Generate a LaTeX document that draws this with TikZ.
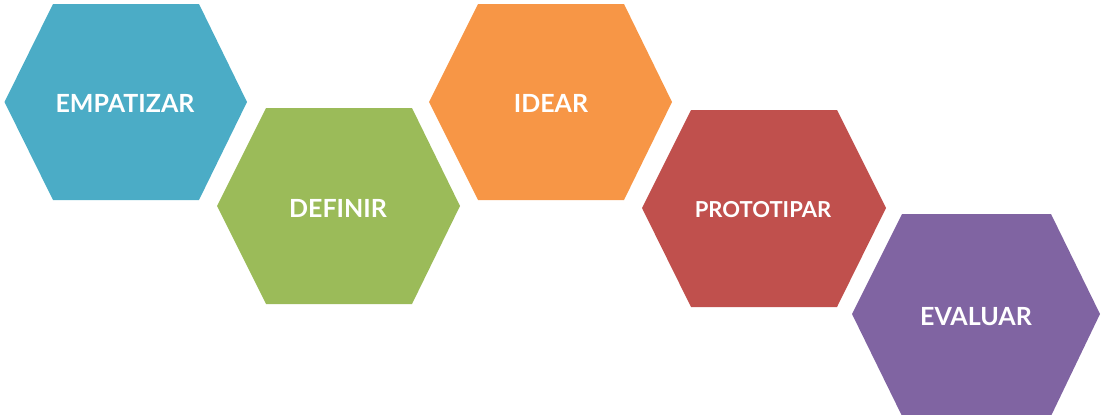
\documentclass[tikz,border=0pt]{standalone}
\usepackage{fontspec}
\setmainfont{Lato}
\definecolor{cblue}{HTML}{4BACC6}
\definecolor{cgreen}{HTML}{9BBB59}
\definecolor{corange}{HTML}{F79646}
\definecolor{cred}{HTML}{C0504D}
\definecolor{cpurple}{HTML}{8064A2}
\begin{document}
\begin{tikzpicture}[x=1pt,y=-1pt,
  lbl/.style={text=white,font=\bfseries\fontsize{25}{28}\selectfont,inner sep=0pt,anchor=center},
  lblsmall/.style={lbl,font=\bfseries\fontsize{22}{26}\selectfont}]
\useasboundingbox (0,0) rectangle (1101,415);
\fill[cblue]   (4.5,102) -- (53,4) -- (199,4) -- (247,102) -- (199,200) -- (53,200) -- cycle;
\fill[cgreen]  (217,206) -- (266,108) -- (412,108) -- (460,206) -- (412,304) -- (266,304) -- cycle;
\fill[corange] (429,102) -- (478,4) -- (624,4) -- (672,102) -- (624,200) -- (478,200) -- cycle;
\fill[cred]    (642,208) -- (691,110) -- (837,110) -- (886,208) -- (837,307) -- (691,307) -- cycle;
\fill[cpurple] (852,314) -- (902,214) -- (1051,214) -- (1100,314) -- (1051,416) -- (902,416) -- cycle;
\node[lbl] (empatizar) at (125,103.5) {EMPATIZAR};
\node[lbl] (definir) at (338,208) {DEFINIR};
\node[lbl] (idear) at (551,103.5) {IDEAR};
\node[lblsmall] (prototipar) at (763,209.5) {PROTOTIPAR};
\node[lbl] (evaluar) at (976,316.5) {EVALUAR};
\end{tikzpicture}
\end{document}
